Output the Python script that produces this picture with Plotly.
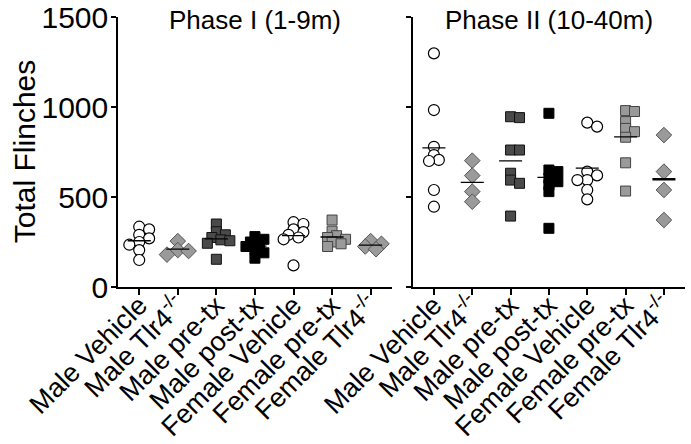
import plotly.graph_objects as go

# ---------------- data ----------------
categories = ["Male Vehicle", "Male Tlr4<sup>-/-</sup>", "Male pre-tx", "Male post-tx",
              "Female Vehicle", "Female pre-tx", "Female Tlr4<sup>-/-</sup>"]
y_ticks = [0, 500, 1000, 1500]
panel_titles = ["Phase I (1-9m)", "Phase II (10-40m)"]
y_title = "Total Flinches"

# Phase I (1-9 min)
male_vehicle_p1 = [335, 320, 290, 270, 250, 235, 205, 150]
male_tlr4_p1 = [255, 205, 200, 180]
male_pretx_p1 = [350, 307, 290, 275, 262, 257, 243, 154]
male_posttx_p1 = [280, 265, 250, 235, 225, 210, 190, 160]
female_vehicle_p1 = [360, 350, 320, 305, 290, 275, 265, 120]
female_pretx_p1 = [372, 310, 285, 275, 265, 250, 240, 225]
female_tlr4_p1 = [255, 240, 225, 210]

# Phase II (10-40 min)
male_vehicle_p2 = [1298, 983, 779, 733, 706, 700, 539, 446]
male_tlr4_p2 = [702, 619, 530, 474]
male_pretx_p2 = [946, 941, 761, 761, 632, 594, 576, 394]
male_posttx_p2 = [965, 650, 641, 604, 585, 567, 530, 326]
female_vehicle_p2 = [913, 891, 641, 620, 594, 594, 539, 487]
female_pretx_p2 = [980, 975, 919, 881, 863, 832, 690, 533]
female_tlr4_p2 = [844, 641, 539, 372]

phase1 = [male_vehicle_p1, male_tlr4_p1, male_pretx_p1, male_posttx_p1,
          female_vehicle_p1, female_pretx_p1, female_tlr4_p1]
phase2 = [male_vehicle_p2, male_tlr4_p2, male_pretx_p2, male_posttx_p2,
          female_vehicle_p2, female_pretx_p2, female_tlr4_p2]

# ---------------- styles ----------------
styles = [
    dict(symbol="circle", size=11, color="white", line=dict(color="black", width=1.2)),
    dict(symbol="diamond", size=12, color="#9a9a9a", line=dict(color="#555555", width=1)),
    dict(symbol="square", size=10, color="#4a4a4a", line=dict(color="#111111", width=1)),
    dict(symbol="square", size=10, color="black", line=dict(color="black", width=1)),
    dict(symbol="circle", size=11, color="white", line=dict(color="black", width=1.2)),
    dict(symbol="square", size=10, color="#9a9a9a", line=dict(color="#444444", width=1)),
    dict(symbol="diamond", size=12, color="#9a9a9a", line=dict(color="#555555", width=1)),
]

PX_PER_CAT = 38.6
PX_PER_UNIT = 0.18


def swarm(values, diam):
    """Deterministic beeswarm offsets (in category units)."""
    order = sorted(range(len(values)), key=lambda i: -values[i])
    placed = []
    offs = [0.0] * len(values)
    step = diam * 0.45
    cands = [0.0]
    for k in range(1, 8):
        cands += [k * step, -k * step]
    for i in order:
        y = values[i] * PX_PER_UNIT
        for c in cands:
            ok = True
            for (px, py) in placed:
                if ((px - c) ** 2 + (py - y) ** 2) ** 0.5 < diam * 0.6:
                    ok = False
                    break
            if ok:
                break
        placed.append((c, y))
        offs[i] = c / PX_PER_CAT
    return offs


fig = go.Figure()

for p, data in enumerate([phase1, phase2]):
    xa = "x" if p == 0 else "x2"
    ya = "y" if p == 0 else "y2"
    for ci, vals in enumerate(data):
        st = styles[ci]
        offs = swarm(vals, st["size"])
        fig.add_trace(go.Scatter(
            x=[ci + o for o in offs], y=vals, mode="markers",
            marker=dict(symbol=st["symbol"], size=st["size"], color=st["color"], line=st["line"]),
            xaxis=xa, yaxis=ya, showlegend=False, hoverinfo="y"))
        m = sum(vals) / len(vals)
        lw = 2.5 if (p == 1 and ci == 6) else 1.3
        fig.add_trace(go.Scatter(
            x=[ci - 0.3, ci + 0.3], y=[m, m], mode="lines",
            line=dict(color="black", width=lw),
            xaxis=xa, yaxis=ya, showlegend=False, hoverinfo="skip"))

font_family = "Liberation Sans, Arial, sans-serif"

xcommon = dict(
    tickmode="array", tickvals=list(range(len(categories))), ticktext=categories,
    range=[-0.55, 6.55], showline=True, linecolor="black", linewidth=1.5,
    ticks="outside", ticklen=6, tickwidth=1.5, tickcolor="black", tickangle=-45,
    tickfont=dict(size=27, color="black", family=font_family), ticklabelstandoff=-16,
    ticklabeloverflow="allow",
    showgrid=False, zeroline=False, fixedrange=True, automargin=False)
ycommon = dict(
    range=[0, 1500], tickvals=y_ticks, showline=True, linecolor="black", linewidth=1.5,
    ticks="outside", ticklen=5, tickwidth=1.5, tickcolor="black",
    tickfont=dict(size=30, color="black", family=font_family), ticklabelstandoff=-3,
    ticklabeloverflow="allow",
    showgrid=False, zeroline=False, automargin=False)

fig.update_layout(
    width=691, height=444,
    margin=dict(l=118, r=6, t=17, b=157),
    paper_bgcolor="white", plot_bgcolor="white",
    font=dict(family=font_family, color="black"),
    xaxis=dict(domain=[0, 0.483], anchor="y", **xcommon),
    xaxis2=dict(domain=[0.520, 1], anchor="y2", **xcommon),
    yaxis=dict(anchor="x", **ycommon),
    yaxis2=dict(anchor="x2", showticklabels=False, **ycommon),
    annotations=[
        dict(text=panel_titles[0], x=0.2415, y=0.989, xref="paper", yref="paper",
             xanchor="center", yanchor="middle", showarrow=False,
             font=dict(size=26, color="black", family=font_family)),
        dict(text=panel_titles[1], x=0.760, y=0.989, xref="paper", yref="paper",
             xanchor="center", yanchor="middle", showarrow=False,
             font=dict(size=26, color="black", family=font_family)),
        dict(text=y_title, x=-0.1655, y=0.5, xref="paper", yref="paper",
             xanchor="center", yanchor="middle", showarrow=False, textangle=-90,
             font=dict(size=30, color="black", family=font_family)),
    ],
)

fig.write_html("out.html", config={"displayModeBar": False},
               post_script="document.body.style.margin='0';document.body.style.overflow='hidden';")
